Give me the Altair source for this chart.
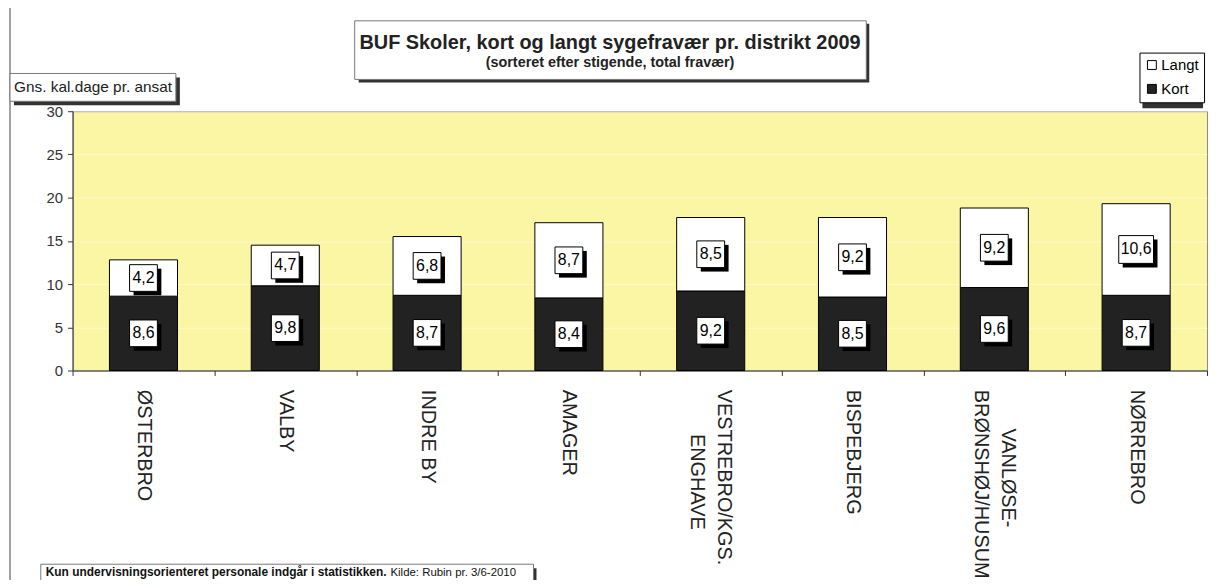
import altair as alt
import pandas as pd

districts = ["ØSTERBRO", "VALBY", "INDRE BY", "AMAGER", "VESTREBRO/KGS. ENGHAVE",
             "BISPEBJERG", "VANLØSE-BRØNSHØJ/HUSUM", "NØRREBRO"]
label_lines = {
    "VESTREBRO/KGS. ENGHAVE": ["VESTREBRO/KGS.", "ENGHAVE"],
    "VANLØSE-BRØNSHØJ/HUSUM": ["VANLØSE-", "BRØNSHØJ/HUSUM"],
}
kort = [8.6, 9.8, 8.7, 8.4, 9.2, 8.5, 9.6, 8.7]
langt = [4.2, 4.7, 6.8, 8.7, 8.5, 9.2, 9.2, 10.6]

rows = []
for d, k, l in zip(districts, kort, langt):
    rows.append({"district": d, "type": "Kort", "order": 0, "value": k})
    rows.append({"district": d, "type": "Langt", "order": 1, "value": l})
df = pd.DataFrame(rows)

FONT = "Liberation Sans"
NBSP = "\u00a0"
ZWSP = "\u200b"

# label expression: multi-line labels with the shorter line centred
parts = []
for key, lines in label_lines.items():
    longest = max(len(s) for s in lines)
    padded = []
    for s in lines:
        pad = int(round((longest - len(s)) * 1.1))
        padded.append((ZWSP + NBSP * pad + s) if pad else s)
    arr = "[" + ",".join("'" + p + "'" for p in padded) + "]"
    parts.append(f"datum.value == '{key}' ? {arr}")
label_expr = " : ".join(parts) + " : datum.value"
multi_test = " || ".join(f"datum.value == '{k}'" for k in label_lines)

W, H = 1142, 261
YELLOW = "#FBF6A3"
DARK = "#222222"

base = alt.Chart(df).transform_stack(
    stack="value", groupby=["district"], as_=["v0", "v1"],
    sort=[alt.SortField("order", order="ascending")]
).transform_calculate(
    mid="(datum.v0 + datum.v1) / 2",
    lbl="replace(format(datum.value, '.1f'), '.', ',')",
    n="length(replace(format(datum.value, '.1f'), '.', ','))",
)

xenc = alt.X("district:N", sort=districts,
             scale=alt.Scale(paddingInner=0, paddingOuter=0),
             axis=alt.Axis(title=None, labelAngle=90, labelAlign="left",
                           labelBaseline="middle", labelFontSize=20,
                           labelFont=FONT, labelColor="#222222",
                           labelPadding=14, labelLineHeight=27,
                           labelOffset={"condition": {"test": multi_test, "value": 13},
                                        "value": 0},
                           tickBand="extent", tickSize=5, tickColor="#333333",
                           domainColor="#333333", labelExpr=label_expr,
                           labelLimit=400))
yscale = alt.Scale(domain=[0, 30], nice=False)

bars = base.mark_bar(stroke="black", strokeWidth=1, width={"band": 0.48}).encode(
    x=xenc,
    y=alt.Y("v0:Q", scale=yscale,
            axis=alt.Axis(title=None, values=[0, 5, 10, 15, 20, 25, 30],
                          labelFontSize=15, labelFont=FONT, labelColor="#333333",
                          tickSize=5, labelPadding=5, tickColor="#333333",
                          domainColor="#333333", gridColor="#FFFFFF",
                          gridOpacity=0.45)),
    y2="v1:Q",
    color=alt.Color("type:N",
                    scale=alt.Scale(domain=["Langt", "Kort"], range=["#FFFFFF", DARK]),
                    legend=alt.Legend(title=None, orient="none", legendX=1074,
                                      legendY=-59, symbolType="square",
                                      symbolSize=80, symbolStrokeColor="black",
                                      symbolStrokeWidth=1, labelFont=FONT,
                                      labelFontSize=15, labelColor="black",
                                      fillColor="white", strokeColor="black",
                                      padding=5, rowPadding=8, symbolOffset=0,
                                      labelOffset=2)),
)

box_path3 = "M-1,-0.96L1,-0.96L1,0.96L-1,0.96Z"
box_path4 = "M-1,-0.8L1,-0.8L1,0.8L-1,0.8Z"
shape_scale = alt.Scale(domain=[3, 4], range=[box_path3, box_path4])
size_scale = alt.Scale(domain=[3, 4], range=[784, 1225])

shadow = base.mark_point(filled=True, color="black", opacity=1, xOffset=4, yOffset=4).encode(
    x=alt.X("district:N", sort=districts),
    y=alt.Y("mid:Q", scale=yscale),
    shape=alt.Shape("n:O", scale=shape_scale, legend=None),
    size=alt.Size("n:O", scale=size_scale, legend=None),
)
boxes = base.mark_point(filled=True, fill="white", stroke="black", strokeWidth=1,
                        opacity=1).encode(
    x=alt.X("district:N", sort=districts),
    y=alt.Y("mid:Q", scale=yscale),
    shape=alt.Shape("n:O", scale=shape_scale, legend=None),
    size=alt.Size("n:O", scale=size_scale, legend=None),
)
texts = base.mark_text(font=FONT, fontSize=16, color="black", baseline="middle").encode(
    x=alt.X("district:N", sort=districts),
    y=alt.Y("mid:Q", scale=yscale),
    text="lbl:N",
)

one = pd.DataFrame({"a": [0]})


def rect(x1, x2, y1, y2, **kw):
    return alt.Chart(one).mark_rect(**kw).encode(
        x=alt.value(x1), x2=alt.value(x2), y=alt.value(y1), y2=alt.value(y2))


def txt(s, x, y, **kw):
    return alt.Chart(one).mark_text(text=s, font=FONT, **kw).encode(
        x=alt.value(x), y=alt.value(y))


# plot coords = page coords - (73, 110)
frame_top = alt.Chart(one).mark_rule(color="#8a8090", strokeWidth=1.5).encode(
    x=alt.value(-63), x2=alt.value(1146), y=alt.value(-105))
frame_left = alt.Chart(one).mark_rule(color="#8a8090", strokeWidth=1.5).encode(
    x=alt.value(-63), y=alt.value(-105), y2=alt.value(480))

title_shadow = rect(288, 802, -88, -29, fill="#333333")
title_box = rect(284, 799, -91, -32, fill="white", stroke="#777777", strokeWidth=1)
title_main = txt("BUF Skoler, kort og langt sygefravær pr. distrikt 2009", 541, -63,
                 fontSize=20, fontWeight="bold", color="#222222", align="center",
                 baseline="alphabetic")
title_sub = txt("(sorteret efter stigende, total fravær)", 541, -45,
                fontSize=14.5, fontWeight="bold", color="#222222", align="center",
                baseline="alphabetic")

ylab_shadow = rect(-59, 108, -34, -6, fill="#333333")
ylab_box = rect(-63, 104, -38, -10, fill="white", stroke="#777777", strokeWidth=1)
ylab_text = txt("Gns. kal.dage pr. ansat", -59, -19, fontSize=15.5, color="#222222",
                align="left", baseline="alphabetic")

leg_shadow = rect(1077, 1138, -55, -3, fill="#333333")

foot_shadow = rect(-29, 467, 460, 480, fill="#333333")
foot_box = rect(-32, 464, 456, 477, fill="white", stroke="#777777", strokeWidth=1)
foot_bold = txt("Kun undervisningsorienteret personale indgår i statistikken.", -27, 468,
                fontSize=12, fontWeight="bold", color="#111111", align="left",
                baseline="alphabetic")
foot_src = txt("Kilde: Rubin pr. 3/6-2010", 320, 468, fontSize=11.5, color="#111111",
               align="left", baseline="alphabetic")

chart = alt.layer(
    bars, shadow, boxes, texts,
    frame_top, frame_left,
    title_shadow, title_box, title_main, title_sub,
    ylab_shadow, ylab_box, ylab_text,
    leg_shadow,
    foot_shadow, foot_box, foot_bold, foot_src,
).properties(
    width=W, height=H,
    autosize=alt.AutoSizeParams(type="none"),
    padding={"left": 65, "top": 102, "right": 4, "bottom": 209},
    background="white",
).configure_view(
    fill=YELLOW, stroke="#888888", strokeWidth=1,
).configure_axis(
    grid=False,
).configure_axisY(
    grid=True,
)

chart.save("out.html", embed_options={"renderer": "svg", "actions": False})
